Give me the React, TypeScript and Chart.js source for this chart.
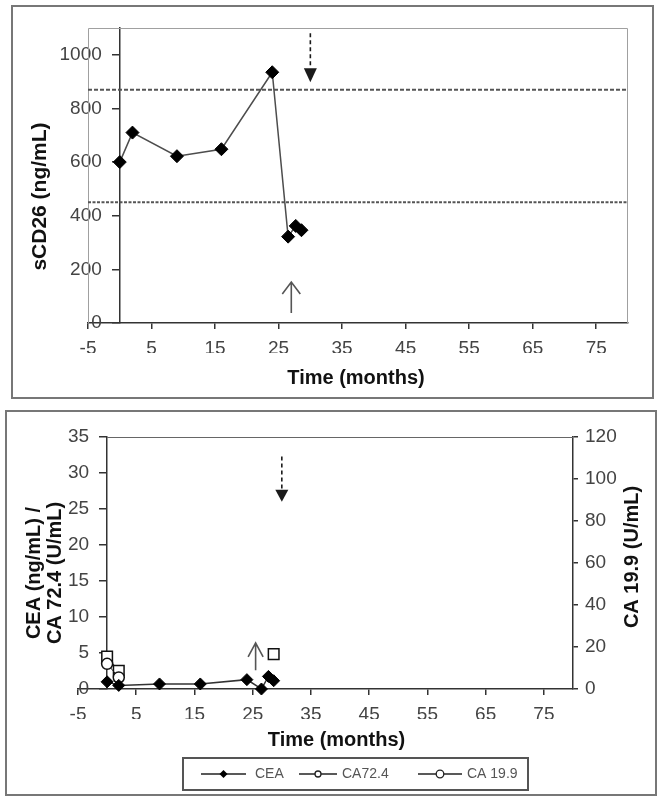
import React, { useEffect, useRef } from "react";
import { Chart, registerables } from "chart.js";

Chart.register(...registerables);

// ---------------- data ----------------
const months = [0, 2, 9, 16, 24, 26.5, 27.7, 28.6];
const sCD26 = [600, 710, 622, 648, 935, 322, 362, 346];
const sCD26UpperLimit = 870;
const sCD26LowerLimit = 450;
const sCD26Max = 1100;
const sCD26Ticks = [0, 200, 400, 600, 800, 1000];

const timeMin = -5;
const timeMax = 80;
const timeTicks = [-5, 5, 15, 25, 35, 45, 55, 65, 75];

const cea = [1.0, 0.5, 0.7, 0.7, 1.3, 0.0, 1.75, 1.15];
const ca724Months = [0, 2];
const ca724 = [3.5, 1.6];
const ca199Months = [0, 2, 28.6];
const ca199 = [15.4, 8.7, 16.6];
const ceaTicks = [0, 5, 10, 15, 20, 25, 30, 35];
const ca199Ticks = [0, 20, 40, 60, 80, 100, 120];

// arrows (data units)
const topDashedArrow = { x: 30, from: 1080, to: 898 };
const topOpenArrow = { x: 27, from: 37, to: 153 };
const bottomDashedArrow = { x: 30, from: 32.3, to: 26 };
const bottomOpenArrow = { x: 25.5, from: 2.6, to: 6.4 };

const FONT = '"Liberation Sans", Arial, Helvetica, sans-serif';
const TICK_FONT = { family: FONT, size: 19 };
const TICK_COLOR = "#444";

function drawText(ctx: CanvasRenderingContext2D, text: string, x: number, y: number, font: string, color: string, rotate = false, align: CanvasTextAlign = "center") {
  ctx.save();
  ctx.translate(x, y);
  if (rotate) ctx.rotate(-Math.PI / 2);
  ctx.font = font;
  ctx.fillStyle = color;
  ctx.textAlign = align;
  ctx.textBaseline = "middle";
  ctx.fillText(text, 0, 0);
  ctx.restore();
}

function drawDashedArrow(ctx: CanvasRenderingContext2D, x: number, yTop: number, yTip: number, headH: number, headW: number) {
  ctx.save();
  ctx.strokeStyle = "#1a1a1a";
  ctx.fillStyle = "#1a1a1a";
  ctx.lineWidth = 1.6;
  ctx.setLineDash([4, 3]);
  ctx.beginPath();
  ctx.moveTo(x, yTop);
  ctx.lineTo(x, yTip - headH);
  ctx.stroke();
  ctx.setLineDash([]);
  ctx.beginPath();
  ctx.moveTo(x - headW, yTip - headH);
  ctx.lineTo(x + headW, yTip - headH);
  ctx.lineTo(x, yTip);
  ctx.closePath();
  ctx.fill();
  ctx.restore();
}

function drawOpenArrow(ctx: CanvasRenderingContext2D, x: number, yBottom: number, yTip: number, headH: number, headW: number) {
  ctx.save();
  ctx.strokeStyle = "#555";
  ctx.lineWidth = 1.6;
  ctx.beginPath();
  ctx.moveTo(x, yBottom);
  ctx.lineTo(x, yTip);
  ctx.moveTo(x - headW, yTip + headH);
  ctx.lineTo(x, yTip);
  ctx.lineTo(x + headW, yTip + headH);
  ctx.stroke();
  ctx.restore();
}

const fixedTicks = (vals: number[]) => (s: any) => {
  s.ticks = vals.map((v) => ({ value: v }));
};

// y axes placed at x = 0 draw their labels right on the axis line; move them left
// by tick length + padding, the way an axis at the left edge would.
const shiftAxisLabels = {
  id: "shiftAxisLabels",
  beforeDraw(chart: any) {
    for (const s of Object.values(chart.scales) as any[]) {
      if (s.axis === "y" && typeof s.options.position === "object") {
        const items = s.getLabelItems(chart.chartArea);
        if (items && !items.__shifted) {
          const off = s.options.grid.tickLength + s.options.ticks.padding;
          items.forEach((it: any) => {
            it.options.translation[0] -= off;
          });
          items.__shifted = true;
        }
      }
    }
  },
};

const topDecor = {
  id: "topDecor",
  beforeDatasetsDraw(chart: any) {
    const { ctx, chartArea: a } = chart;
    ctx.save();
    ctx.strokeStyle = "#a0a0a0";
    ctx.lineWidth = 1;
    ctx.beginPath();
    ctx.moveTo(a.left + 0.5, a.bottom);
    ctx.lineTo(a.left + 0.5, a.top + 0.5);
    ctx.lineTo(a.right - 0.5, a.top + 0.5);
    ctx.lineTo(a.right - 0.5, a.bottom);
    ctx.stroke();
    ctx.restore();
  },
  afterDraw(chart: any) {
    const { ctx, chartArea: a, scales } = chart;
    const x = scales.x, y = scales.y;
    drawDashedArrow(ctx, x.getPixelForValue(topDashedArrow.x), y.getPixelForValue(topDashedArrow.from), y.getPixelForValue(topDashedArrow.to), 14, 6.5);
    drawOpenArrow(ctx, x.getPixelForValue(topOpenArrow.x), y.getPixelForValue(topOpenArrow.from), y.getPixelForValue(topOpenArrow.to), 12, 9);
    drawText(ctx, "sCD26 (ng/mL)", a.left - 48, (a.top + a.bottom) / 2 + 21, `bold 21px ${FONT}`, "#111", true);
    drawText(ctx, "Time (months)", (a.left + a.right) / 2 - 2, a.bottom + 55, `bold 20px ${FONT}`, "#111");
  },
};

const bottomDecor = {
  id: "bottomDecor",
  beforeDatasetsDraw(chart: any) {
    const { ctx, chartArea: a, scales } = chart;
    const x0 = scales.x.getPixelForValue(0);
    ctx.save();
    ctx.strokeStyle = "#666";
    ctx.lineWidth = 1.2;
    ctx.beginPath();
    ctx.moveTo(x0, a.top + 0.5);
    ctx.lineTo(a.right, a.top + 0.5);
    ctx.stroke();
    ctx.restore();
  },
  afterDraw(chart: any) {
    const { ctx, chartArea: a, scales } = chart;
    const x = scales.x, y = scales.y;
    drawDashedArrow(ctx, x.getPixelForValue(bottomDashedArrow.x), y.getPixelForValue(bottomDashedArrow.from), y.getPixelForValue(bottomDashedArrow.to), 12, 6.5);
    drawOpenArrow(ctx, x.getPixelForValue(bottomOpenArrow.x), y.getPixelForValue(bottomOpenArrow.from), y.getPixelForValue(bottomOpenArrow.to), 14, 7.5);
    const cy = (a.top + a.bottom) / 2;
    drawText(ctx, "CEA (ng/mL) /", a.left - 44, cy + 10, `bold 20px ${FONT}`, "#111", true);
    drawText(ctx, "CA 72.4 (U/mL)", a.left - 23, cy + 10, `bold 20px ${FONT}`, "#111", true);
    drawText(ctx, "CA 19.9 (U/mL)", a.right + 59, cy - 6, `bold 20px ${FONT}`, "#111", true);
    drawText(ctx, "Time (months)", (a.left + a.right) / 2 + 11, a.bottom + 51, `bold 20px ${FONT}`, "#111");

    // legend
    const lx = 183, ly = a.bottom + 69, lw = 345, lh = 32;
    ctx.save();
    ctx.strokeStyle = "#555";
    ctx.lineWidth = 2;
    ctx.strokeRect(lx, ly, lw, lh);
    const my = ly + lh / 2;
    const items = [
      { label: "CEA", x1: 201, x2: 246, tx: 255, kind: "diamond" },
      { label: "CA72.4", x1: 299, x2: 337, tx: 342, kind: "circle" },
      { label: "CA 19.9", x1: 418, x2: 462, tx: 467, kind: "circleL" },
    ];
    for (const it of items) {
      ctx.strokeStyle = "#222";
      ctx.lineWidth = 1.3;
      ctx.beginPath();
      ctx.moveTo(it.x1, my);
      ctx.lineTo(it.x2, my);
      ctx.stroke();
      const cx = (it.x1 + it.x2) / 2;
      if (it.kind === "diamond") {
        ctx.fillStyle = "#000";
        ctx.beginPath();
        ctx.moveTo(cx - 4, my);
        ctx.lineTo(cx, my - 4);
        ctx.lineTo(cx + 4, my);
        ctx.lineTo(cx, my + 4);
        ctx.closePath();
        ctx.fill();
      } else {
        const r = it.kind === "circle" ? 3 : 3.8;
        ctx.fillStyle = "#fff";
        ctx.beginPath();
        ctx.arc(cx, my, r, 0, Math.PI * 2);
        ctx.fill();
        ctx.lineWidth = 1.3;
        ctx.stroke();
      }
      drawText(ctx, it.label, it.tx, my, `14px ${FONT}`, "#555", false, "left");
    }
    ctx.restore();
  },
};

function axisCommon(tickLength: number, padding: number) {
  return {
    grid: { display: true, drawOnChartArea: false, drawTicks: true, tickLength, color: "#333", lineWidth: 1.5 },
    border: { display: true, color: "#333", width: 1.5 },
    ticks: {
      font: TICK_FONT,
      color: TICK_COLOR,
      padding,
      maxRotation: 0,
      autoSkip: false,
      callback: (v: any) => String(v),
    },
  };
}

function buildTopConfig(): any {
  return {
    type: "scatter",
    data: {
      datasets: [
        {
          label: "sCD26",
          data: months.map((m, i) => ({ x: m, y: sCD26[i] })),
          showLine: true,
          borderColor: "#4d4d4d",
          borderWidth: 1.5,
          pointStyle: "rectRot",
          pointRadius: 6.5,
          pointBackgroundColor: "#000",
          pointBorderColor: "#000",
          pointBorderWidth: 1,
          clip: false,
        },
        {
          label: "upper",
          data: [{ x: timeMin, y: sCD26UpperLimit }, { x: timeMax, y: sCD26UpperLimit }],
          showLine: true,
          borderColor: "#555",
          borderWidth: 2,
          borderDash: [4, 2],
          pointRadius: 0,
        },
        {
          label: "lower",
          data: [{ x: timeMin, y: sCD26LowerLimit }, { x: timeMax, y: sCD26LowerLimit }],
          showLine: true,
          borderColor: "#555",
          borderWidth: 2,
          borderDash: [3, 1.5],
          pointRadius: 0,
        },
      ],
    },
    options: {
      animation: false,
      responsive: false,
      events: [],
      layout: { padding: { left: 88, top: 28, right: 34, bottom: 52 } },
      plugins: { legend: { display: false }, tooltip: { enabled: false } },
      scales: {
        x: {
          type: "linear",
          position: "bottom",
          min: timeMin,
          max: timeMax,
          afterBuildTicks: fixedTicks(timeTicks),
          afterFit: (s: any) => { s.height = 30; },
          ...axisCommon(6, 8),
        },
        y: {
          type: "linear",
          position: { x: 0 },
          min: 0,
          max: sCD26Max,
          afterBuildTicks: fixedTicks(sCD26Ticks),
          ...axisCommon(7, 11),
        },
      },
    },
    plugins: [shiftAxisLabels, topDecor],
  };
}

function buildBottomConfig(): any {
  return {
    type: "scatter",
    data: {
      datasets: [
        {
          label: "CEA",
          data: months.map((m, i) => ({ x: m, y: cea[i] })),
          yAxisID: "y",
          showLine: true,
          borderColor: "#333",
          borderWidth: 1.5,
          pointStyle: "rectRot",
          pointRadius: 6,
          pointBackgroundColor: "#000",
          pointBorderColor: "#000",
          pointBorderWidth: 1,
          clip: false,
        },
        {
          label: "CA72.4",
          data: ca724Months.map((m, i) => ({ x: m, y: ca724[i] })),
          yAxisID: "y",
          showLine: true,
          borderColor: "#222",
          borderWidth: 1,
          pointStyle: "circle",
          pointRadius: 5.5,
          pointBackgroundColor: "#fff",
          pointBorderColor: "#111",
          pointBorderWidth: 1.5,
          clip: false,
        },
        {
          label: "CA 19.9",
          data: ca199Months.map((m, i) => ({ x: m, y: ca199[i] })),
          yAxisID: "y2",
          showLine: true,
          borderColor: "#222",
          borderWidth: 1,
          segment: { borderColor: (c: any) => (c.p0DataIndex >= 1 ? "rgba(0,0,0,0)" : "#222") },
          pointStyle: "rect",
          pointRadius: 7.5,
          pointBackgroundColor: "#fff",
          pointBorderColor: "#111",
          pointBorderWidth: 1.5,
          clip: false,
        },
      ],
    },
    options: {
      animation: false,
      responsive: false,
      events: [],
      layout: { padding: { left: 78, top: 32, right: 29, bottom: 82 } },
      plugins: { legend: { display: false }, tooltip: { enabled: false } },
      scales: {
        x: {
          type: "linear",
          position: "bottom",
          min: timeMin,
          max: timeMax,
          afterBuildTicks: fixedTicks(timeTicks),
          afterFit: (s: any) => { s.height = 30; },
          ...axisCommon(6, 8),
        },
        y: {
          type: "linear",
          position: { x: 0 },
          min: 0,
          max: 35,
          afterBuildTicks: fixedTicks(ceaTicks),
          ...axisCommon(7, 11),
        },
        y2: {
          type: "linear",
          position: "right",
          min: 0,
          max: 120,
          afterBuildTicks: fixedTicks(ca199Ticks),
          afterFit: (s: any) => { s.width = 60; },
          ...axisCommon(5, 7),
        },
      },
    },
    plugins: [shiftAxisLabels, bottomDecor],
  };
}

export default function App() {
  const topRef = useRef<HTMLCanvasElement>(null);
  const bottomRef = useRef<HTMLCanvasElement>(null);

  useEffect(() => {
    const c1 = new Chart(topRef.current as HTMLCanvasElement, buildTopConfig());
    const c2 = new Chart(bottomRef.current as HTMLCanvasElement, buildBottomConfig());
    return () => {
      c1.destroy();
      c2.destroy();
    };
  }, []);

  return (
    <div style={{ position: "absolute", left: 0, top: 0, width: 662, height: 801, background: "#fff", overflow: "hidden" }}>
      <div style={{ position: "absolute", left: 11, top: 5, width: 643, height: 394, border: "2px solid #777", boxSizing: "border-box" }} />
      <div style={{ position: "absolute", left: 5, top: 410, width: 652, height: 386, border: "2px solid #777", boxSizing: "border-box" }} />
      <canvas ref={topRef} width={662} height={405} style={{ position: "absolute", left: 0, top: 0, display: "block" }} />
      <canvas ref={bottomRef} width={662} height={396} style={{ position: "absolute", left: 0, top: 405, display: "block" }} />
    </div>
  );
}
